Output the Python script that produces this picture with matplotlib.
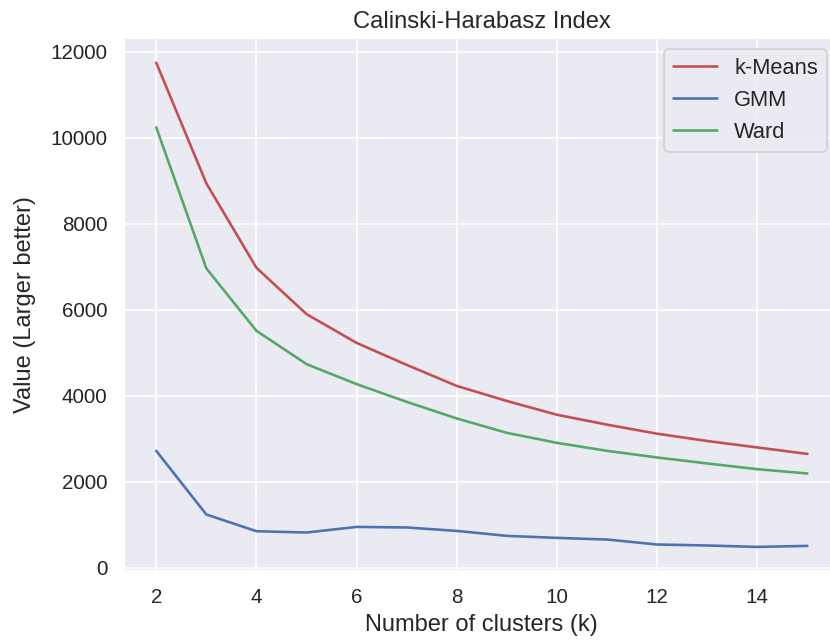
import numpy as np
import matplotlib.pyplot as plt
import seaborn as sns

sns.set_theme(style="darkgrid", color_codes=True)
plt.rcParams['font.family'] = ['Liberation Sans', 'DejaVu Sans']

k = [2, 3, 4, 5, 6, 7, 8, 9, 10, 11, 12, 13, 14, 15]
kmeans = [11744, 8940, 6977, 5900, 5230, 4720, 4230, 3880, 3560, 3330, 3120, 2950, 2800, 2650]
gmm = [2721, 1242, 853, 823, 953, 940, 860, 745, 698, 660, 544, 521, 488, 512]
ward = [10242, 6963, 5512, 4737, 4272, 3860, 3474, 3140, 2907, 2721, 2567, 2428, 2295, 2195]

fig = plt.figure(figsize=(6.64, 5.128), dpi=125)
ax = fig.add_axes([0.149, 0.109, 0.863, 0.831])
ax.plot(k, kmeans, color='r', label='k-Means')
ax.plot(k, gmm, color='b', label='GMM')
ax.plot(k, ward, color='g', label='Ward')
ax.set_xticks([2, 4, 6, 8, 10, 12, 14])
ax.tick_params(labelsize=11.9)
ax.set_title('Calinski-Harabasz Index', fontsize=13.7)
ax.set_xlabel('Number of clusters (k)', fontsize=13.6)
ax.set_ylabel('Value (Larger better)', fontsize=13.6, labelpad=8)
ax.legend(loc='upper right', bbox_to_anchor=(0.997, 1.0), fontsize=12.6)
fig.savefig('out.png', dpi=125)
